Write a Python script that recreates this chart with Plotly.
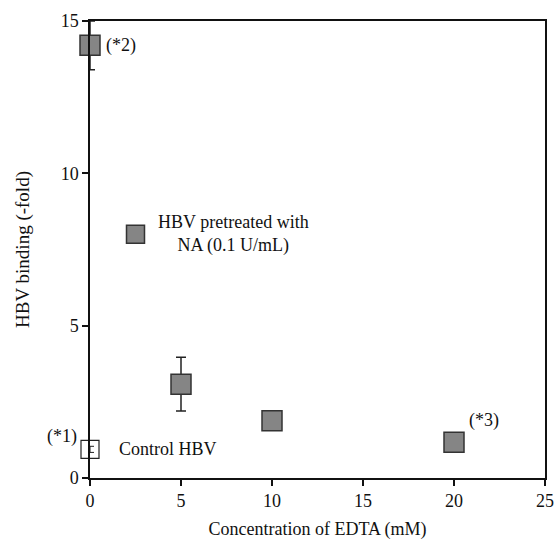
import plotly.graph_objects as go

# Data
edta_mM = [0, 5, 10, 20]
binding_na = [14.2, 3.08, 1.88, 1.17]
err_na = [0.8, 0.88, 0.0, 0.0]
control_x = [0]
control_y = [0.94]
control_err = [0.1]
legend_x = [2.5]
legend_y = [8.0]
x_ticks = [0, 5, 10, 15, 20, 25]
y_ticks = [0, 5, 10, 15]

FONT = "Liberation Serif"
INK = "#111111"
fig = go.Figure()
fig.add_trace(go.Scatter(
    x=edta_mM, y=binding_na, mode="markers",
    marker=dict(symbol="square", size=20, color="#858585",
                line=dict(color="#333333", width=1.5)),
    error_y=dict(type="data", array=err_na, color="#222222", thickness=1.5, width=5),
    cliponaxis=False, showlegend=False))
fig.add_trace(go.Scatter(
    x=control_x, y=control_y, mode="markers",
    marker=dict(symbol="square-open", size=18, color="#222222",
                line=dict(color="#222222", width=1.2)),
    error_y=dict(type="data", array=control_err, color="#222222", thickness=1, width=4),
    cliponaxis=False, showlegend=False))
fig.add_trace(go.Scatter(
    x=legend_x, y=legend_y, mode="markers",
    marker=dict(symbol="square", size=18, color="#858585",
                line=dict(color="#333333", width=1.5)),
    cliponaxis=False, showlegend=False))

ann_font = dict(family=FONT, size=18, color=INK)
fig.add_annotation(x=0, y=14.2, text="(*2)", showarrow=False, xanchor="left", xshift=14, font=ann_font)
fig.add_annotation(x=0, y=0.94, text="(*1)", showarrow=False, xanchor="right", xshift=-11, yshift=13, font=ann_font)
fig.add_annotation(x=0, y=0.94, text="Control HBV", showarrow=False, xanchor="left", xshift=27, font=ann_font)
fig.add_annotation(x=20, y=1.17, text="(*3)", showarrow=False, xanchor="left", xshift=13, yshift=22, font=ann_font)
fig.add_annotation(x=2.5, y=8.0, text="HBV pretreated with<br>NA (0.1 U/mL)", showarrow=False,
                   xanchor="left", xshift=20, font=ann_font, align="center")

axis_common = dict(showline=True, linecolor=INK, linewidth=1.5, mirror=True,
                   ticks="outside", ticklen=6, tickcolor=INK, tickwidth=1.5,
                   showgrid=False, zeroline=False, automargin=False,
                   tickfont=dict(family=FONT, size=18, color=INK))
fig.update_xaxes(range=[0, 25], tickvals=x_ticks,
                 title=dict(text="Concentration of EDTA (mM)", font=dict(family=FONT, size=18, color=INK), standoff=12),
                 **axis_common)
fig.update_yaxes(range=[0, 15], tickvals=y_ticks,
                 title=dict(text="HBV binding (-fold)", font=dict(family=FONT, size=19, color=INK), standoff=26),
                 **axis_common)
fig.update_layout(width=554, height=542, margin=dict(l=90, r=9, t=21, b=64),
                  plot_bgcolor="white", paper_bgcolor="white")
fig.write_html("out.html")
